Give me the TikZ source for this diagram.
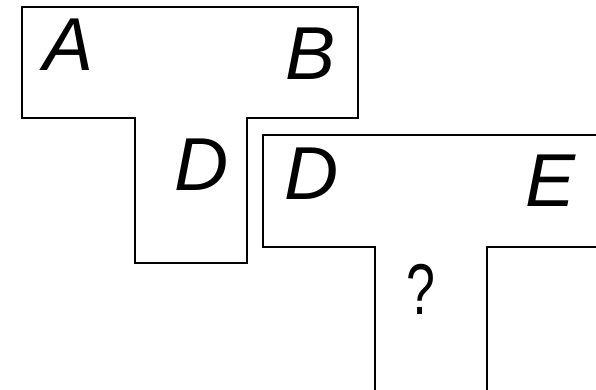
\documentclass[tikz,border=0pt]{standalone}
\usepackage{fontspec}
\setmainfont{Liberation Sans}
\usepackage{tikz}

\tikzset{
  letter/.style={inner sep=0pt, font=\fontsize{75}{75}\selectfont\itshape},
  piece/.style={line width=1.8pt},
}

\begin{document}
\begin{tikzpicture}[x=1pt,y=-1pt]
\useasboundingbox (0,0) rectangle (596,390);
% first piece
\draw [piece] (22,7)--(358,7)--(358,118)--(247,118)--(247,263)--(135,263)--(135,118)--(22,118)--cycle;
\node[letter] (a) at (69,45) {A};
\node[letter] (b) at (311,54) {B};
\node[letter] (d1) at (202,165) {D};
% second piece
\draw [piece] (600,135)--(263,135)--(263,247)--(375,247)--(375,392);
\draw [piece] (487,392)--(487,247)--(600,247);
\node[letter] (d2) at (312,174) {D};
\node[letter] (e) at (551,181) {E};
\node[inner sep=0pt, font=\fontsize{72}{72}\selectfont, xscale=0.72] (q) at (421,289) {?};
\end{tikzpicture}
\end{document}
